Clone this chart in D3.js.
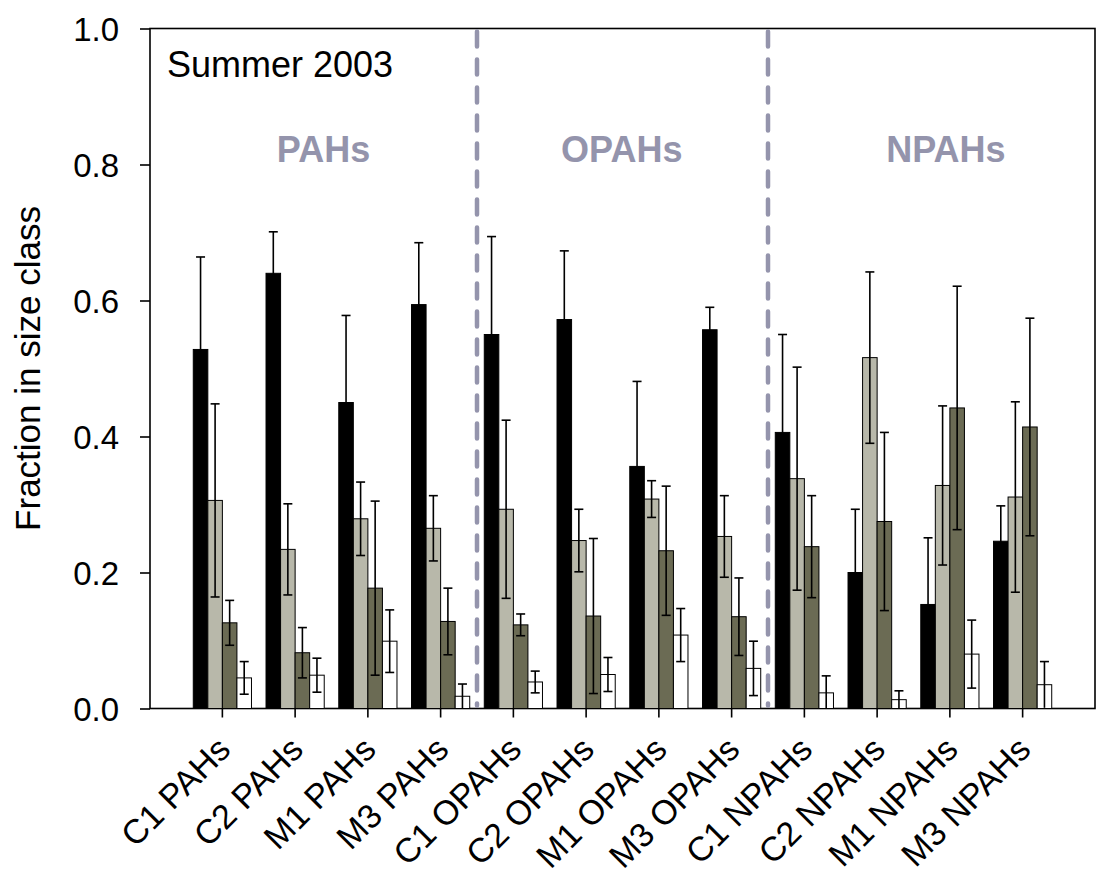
<!DOCTYPE html>
<html>
<head>
<meta charset="utf-8">
<script src="https://cdn.jsdelivr.net/npm/d3@7/dist/d3.min.js"></script>
<style>
  body { margin: 0; background: #fff; }
  svg { display: block; font-family: Arial, "Liberation Sans", sans-serif; }
</style>
</head>
<body>
<svg id="chart" width="1098" height="879"></svg>
<script>
// ---- data ----
const categories = ["C1 PAHs","C2 PAHs","M1 PAHs","M3 PAHs",
                    "C1 OPAHs","C2 OPAHs","M1 OPAHs","M3 OPAHs",
                    "C1 NPAHs","C2 NPAHs","M1 NPAHs","M3 NPAHs"];
const sizeClasses = ["s1","s2","s3","s4"];
const s1Values = [0.528,0.640,0.450,0.594, 0.550,0.572,0.356,0.557, 0.406,0.200,0.153,0.246];
const s1Errors = [0.136,0.061,0.128,0.091, 0.144,0.101,0.125,0.033, 0.144,0.093,0.098,0.052];
const s2Values = [0.306,0.234,0.279,0.265, 0.293,0.247,0.308,0.253, 0.338,0.516,0.328,0.311];
const s2Errors = [0.142,0.067,0.054,0.048, 0.131,0.046,0.027,0.060, 0.164,0.126,0.117,0.140];
const s3Values = [0.126,0.082,0.177,0.128, 0.123,0.136,0.232,0.135, 0.238,0.275,0.442,0.414];
const s3Errors = [0.033,0.037,0.128,0.049, 0.016,0.114,0.095,0.057, 0.075,0.131,0.179,0.160];
const s4Values = [0.045,0.049,0.099,0.018, 0.039,0.050,0.108,0.059, 0.023,0.013,0.080,0.035];
const s4Errors = [0.024,0.025,0.046,0.018, 0.016,0.025,0.039,0.040, 0.025,0.013,0.050,0.034];
const yTicks = [0,0.2,0.4,0.6,0.8,1.0];
const groupLabels = ["PAHs","OPAHs","NPAHs"];

const seriesValues = [s1Values,s2Values,s3Values,s4Values];
const seriesErrors = [s1Errors,s2Errors,s3Errors,s4Errors];
const fills = ["#000000","#b8b8aa","#6b6b54","#ffffff"];
const FONT = "Arial, 'Liberation Sans', sans-serif";

// ---- layout ----
const svg = d3.select("#chart");
const plotL = 150, plotR = 1095, plotT = 28.5, plotB = 708.5;

const y = d3.scaleLinear().domain([0,1]).range([plotB, plotT]);
const x = d3.scaleBand().domain(categories).range([186, 1059]).paddingInner(0.2).paddingOuter(0.1);
const xs = d3.scaleBand().domain(sizeClasses).range([0, x.bandwidth()]);

// frame
svg.append("rect").attr("x",plotL).attr("y",plotT).attr("width",plotR-plotL).attr("height",plotB-plotT)
  .attr("fill","none").attr("stroke","#000").attr("stroke-width",1.6);

// bars
const rows = [];
categories.forEach((c,i)=>{
  sizeClasses.forEach((s,j)=>{
    rows.push({cat:c, cls:s, j:j, v:seriesValues[j][i], e:seriesErrors[j][i]});
  });
});

const g = svg.append("g");
g.selectAll("rect.bar").data(rows).enter().append("rect")
  .attr("class","bar")
  .attr("x", d=>x(d.cat)+xs(d.cls))
  .attr("y", d=>y(d.v))
  .attr("width", xs.bandwidth())
  .attr("height", d=>y(0)-y(d.v))
  .attr("fill", d=>fills[d.j])
  .attr("stroke","#000").attr("stroke-width",1);

// error bars
const capW = 9;
const cx = d=>x(d.cat)+xs(d.cls)+xs.bandwidth()/2;
const eb = g.selectAll("g.err").data(rows).enter().append("g").attr("class","err")
  .attr("stroke","#000").attr("stroke-width",1.6);
eb.append("line")
  .attr("x1", cx).attr("x2", cx)
  .attr("y1", d=>y(Math.max(0,d.v-d.e)))
  .attr("y2", d=>y(d.v+d.e));
eb.append("line")
  .attr("x1", d=>cx(d)-capW/2).attr("x2", d=>cx(d)+capW/2)
  .attr("y1", d=>y(d.v+d.e)).attr("y2", d=>y(d.v+d.e));
eb.filter(d=>d.v-d.e>0.003).append("line")
  .attr("x1", d=>cx(d)-capW/2).attr("x2", d=>cx(d)+capW/2)
  .attr("y1", d=>y(d.v-d.e)).attr("y2", d=>y(d.v-d.e));

// separators
const step = x.step();
[3,7].forEach(k=>{
  const sx = x(categories[k]) + x.bandwidth()/2 + step/2;
  svg.append("line").attr("x1",sx).attr("x2",sx).attr("y1",plotT+3).attr("y2",plotB-3)
    .attr("stroke","#9494ac").attr("stroke-width",4.5)
    .attr("stroke-dasharray","15,13").attr("stroke-linecap","round");
});

// y axis
const yAxis = d3.axisLeft(y).tickValues(yTicks).tickFormat(d3.format(".1f")).tickSize(10).tickPadding(21);
const ya = svg.append("g").attr("transform",`translate(${plotL},0)`).call(yAxis);
ya.select(".domain").remove();
ya.selectAll(".tick line").attr("stroke","#000").attr("stroke-width",1.6);
ya.selectAll(".tick text").attr("font-size",33).attr("fill","#000")
  .attr("font-family",FONT).attr("dy","0.35em");

// x axis
const xAxis = d3.axisBottom(x).tickSize(9).tickPadding(0);
const xa = svg.append("g").attr("transform",`translate(0,${plotB})`).call(xAxis);
xa.select(".domain").remove();
xa.selectAll(".tick line").attr("stroke","#000").attr("stroke-width",1.6);
xa.selectAll(".tick text")
  .attr("font-size",34).attr("fill","#000")
  .attr("font-family",FONT)
  .attr("text-anchor","end")
  .attr("x",0).attr("y",0).attr("dy",0)
  .attr("transform","translate(10,43) rotate(-45)");

// axis title
svg.append("text").attr("transform",`translate(40,${(plotT+plotB)/2}) rotate(-90)`)
  .attr("text-anchor","middle").attr("font-size",35).attr("fill","#000")
  .attr("font-family",FONT)
  .text("Fraction in size class");

// annotations
svg.append("text").attr("x",plotL+17).attr("y",77).attr("font-size",36).attr("fill","#000")
  .attr("font-family",FONT).text("Summer 2003");
const labelCenters = [x(categories[1])+x.bandwidth()/2 + step*0.39,
                      x(categories[5])+x.bandwidth()/2 + step*0.49,
                      x(categories[9])+x.bandwidth()/2 + step*0.945];
groupLabels.forEach((t,i)=>{
  svg.append("text").attr("x",labelCenters[i]).attr("y",162)
    .attr("text-anchor","middle").attr("font-size",36).attr("font-weight","bold")
    .attr("font-family",FONT)
    .attr("fill","#9494ac").text(t);
});
</script>
</body>
</html>
